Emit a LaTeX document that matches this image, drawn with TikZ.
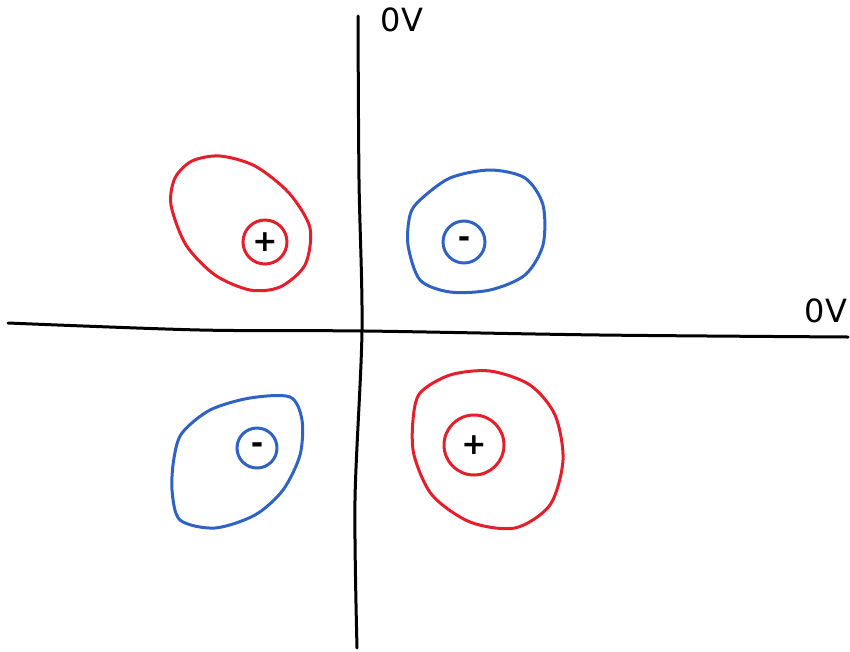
\documentclass[tikz,border=0pt]{standalone}
\usepackage{fontspec}
\setmainfont{DejaVu Sans}
\definecolor{penred}{RGB}{228,30,42}
\definecolor{penblue}{RGB}{48,98,196}
\tikzset{
  axis/.style={line width=3pt, black, line cap=round, line join=round},
  loopred/.style={line width=3pt, penred},
  loopblue/.style={line width=3pt, penblue},
  inner/.style={circle, line width=3pt, inner sep=0pt, font=\fontsize{30}{30}\selectfont\bfseries},
  lbl/.style={font=\fontsize{32}{32}\selectfont, inner sep=0pt}
}
\begin{document}
\begin{tikzpicture}[x=1pt,y=-1pt]
\useasboundingbox (0,0) rectangle (850,651);
% axes
\draw[axis] plot[smooth] coordinates {(358,16) (359,180) (362,330) (355,500) (357,648)};
\draw[axis] plot[smooth] coordinates {(8,323) (200,330) (365,331) (600,335) (848,337)};
\node[lbl] (ytop) at (402,20) {0V};
\node[lbl] (xright) at (826,311) {0V};
% top-left red
\draw[loopred] plot[smooth cycle] coordinates {(175,178) (192,161) (220,156) (255,166) (289,193) (310,228) (305,265) (280,287) (250,290) (215,275) (186,245) (171,205)};
\node[inner, draw=penred, minimum size=44pt] (tl) at (265,242) {+};
% top-right blue
\draw[loopblue] plot[smooth cycle] coordinates {(420,200) (450,178) (490,170) (525,178) (543,205) (543,245) (525,275) (490,290) (450,292) (420,280) (408,245) (410,215)};
\node[inner, draw=penblue, minimum size=42pt] (tr) at (464,242) {-};
% bottom-left blue
\draw[loopblue] plot[smooth cycle] coordinates {(182,433) (210,410) (250,398) (290,397) (302,420) (300,455) (283,490) (255,515) (215,528) (180,520) (172,490) (174,458)};
\node[inner, draw=penblue, minimum size=40pt] (bl) at (257,448) {-};
% bottom-right red
\draw[loopred] plot[smooth cycle] coordinates {(420,393) (450,375) (490,371) (530,385) (555,415) (563,460) (550,505) (515,528) (470,522) (432,495) (414,455) (413,420)};
\node[inner, draw=penred, minimum size=60pt] (br) at (474,445) {+};
\end{tikzpicture}
\end{document}
